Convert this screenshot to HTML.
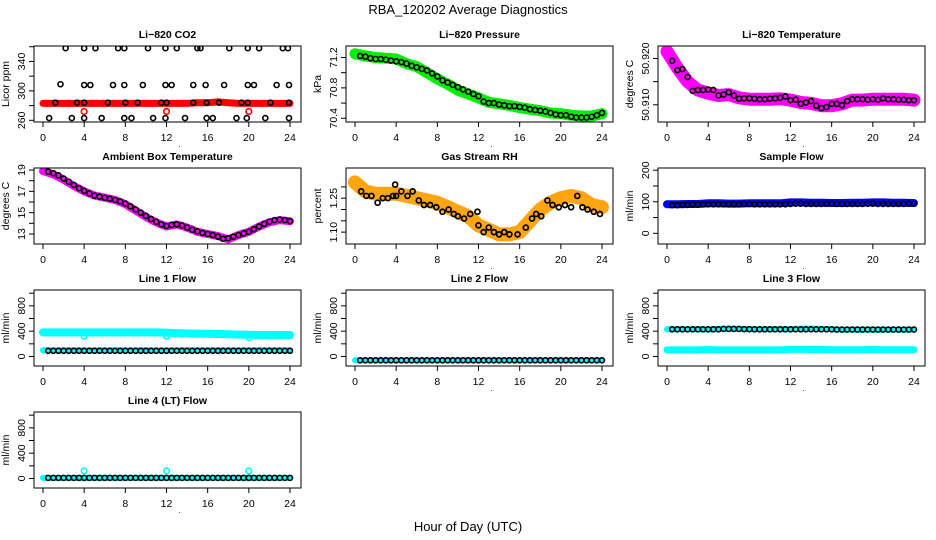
<!DOCTYPE html>
<html><head><meta charset="utf-8">
<style>
html,body{margin:0;padding:0;background:#fff;}
svg{display:block;font-family:"Liberation Sans",Arial,sans-serif;}
</style></head>
<body>
<svg id="chart" width="936" height="540" viewBox="0 0 936 540" xmlns="http://www.w3.org/2000/svg">
<text x="468" y="14" text-anchor="middle" font-size="13">RBA_120202  Average Diagnostics</text>
<text x="468" y="531" text-anchor="middle" font-size="13">Hour of Day (UTC)</text>
</svg>
<script>
// ---- data ----
const xTicks = [0,4,8,12,16,20,24];
const bandHours = [0,1,2,3,4,5,6,7,8,9,10,11,12,13,14,15,16,17,18,19,20,21,22,23,24];
const ptHours = [0.5,1,1.5,2,2.5,3,3.5,4,4.5,5,5.5,6,6.5,7,7.5,8,8.5,9,9.5,10,10.5,11,11.5,12,12.5,13,13.5,14,14.5,15,15.5,16,16.5,17,17.5,18,18.5,19,19.5,20,20.5,21,21.5,22,22.5,23,23.5,24];

// CO2
const co2Band = [283,283,283,283,283,283,283,283,283,283,283,283,283,283,283,284,284,285,284,283,283,283,283,283,283];
const co2OutHours = [4,12,20];
const co2OutVals = [272,272,272];
const co2PtHours = [2.2,4,5.1,7.3,7.9,10.2,11.9,13,15,15.3,18.1,19.9,21,23.3,23.8, 1.7,4,4.6,6.8,7.9,9.7,11.9,12.5,14.6,15.8,17.6,19.9,20.5,22.7,23.9, 1.2,3.3,4,6.3,8,9.2,11.5,12,14.6,15.9,17.1,19.3,19.9,22.1,23.9, 0.6,2.8,4,5.7,7.9,8.6,10.7,11.9,13.8,15.9,16.5,18.8,19.8,21.6,23.9];
const co2PtVals = [358,358,358,358,358,358,358,358,358,358,358,358,358,358,358, 309,308,308,308,308,308,308,308,308,308,308,308,308,308,308, 284,284,284,284,284,284,284,284,284,284,284,284,284,284,284, 263,263,263,263,263,263,263,263,263,263,263,263,263,263,263];

// Pressure
const presBand = [71.25,71.22,71.2,71.19,71.18,71.12,71.08,71.0,70.92,70.85,70.77,70.72,70.67,70.61,70.59,70.57,70.54,70.52,70.5,70.47,70.46,70.44,70.43,70.43,70.46];
const presPts = [71.22,71.21,71.19,71.18,71.18,71.17,71.16,71.15,71.14,71.12,71.09,71.07,71.05,71.03,70.99,70.95,70.9,70.87,70.84,70.81,70.78,70.75,70.72,70.69,70.62,70.6,70.6,70.58,70.57,70.56,70.56,70.55,70.54,70.52,70.51,70.5,70.49,70.47,70.45,70.44,70.44,70.42,70.41,70.41,70.41,70.42,70.44,70.47];

// Li-820 temperature
const ltBand = [50.9215,50.918,50.915,50.9132,50.9125,50.912,50.9122,50.9115,50.9112,50.9112,50.9112,50.9113,50.911,50.9105,50.9103,50.9098,50.9098,50.9102,50.911,50.911,50.9112,50.9112,50.9112,50.9112,50.911];
const ltPts = [50.9195,50.9175,50.9177,50.916,50.913,50.9132,50.9132,50.9133,50.9132,50.912,50.9122,50.9127,50.912,50.9113,50.9114,50.9114,50.9113,50.9112,50.9112,50.9113,50.9114,50.9115,50.9118,50.911,50.9111,50.9102,50.9105,50.9108,50.9098,50.9093,50.9095,50.9102,50.9102,50.9099,50.9108,50.9112,50.9112,50.9112,50.9111,50.9112,50.9111,50.9114,50.9112,50.9112,50.9111,50.9111,50.911,50.911];

// Ambient box temperature
const ambBand = [18.9,18.6,18.1,17.5,17.0,16.6,16.4,16.2,15.8,15.2,14.6,14.1,13.7,13.9,13.6,13.2,13.0,12.8,12.5,12.9,13.2,13.7,14.1,14.3,14.2];
const ambPts = [18.85,18.7,18.5,18.2,17.9,17.6,17.3,17.05,16.8,16.6,16.5,16.4,16.3,16.2,16.05,15.85,15.6,15.3,15.0,14.7,14.4,14.15,13.9,13.75,13.85,13.9,13.8,13.6,13.4,13.25,13.1,13.0,12.9,12.75,12.55,12.6,12.75,12.9,13.05,13.2,13.45,13.7,13.95,14.15,14.3,14.35,14.3,14.2];

// Gas stream RH
const rhBand = [1.32,1.28,1.27,1.27,1.27,1.26,1.25,1.24,1.23,1.21,1.19,1.17,1.13,1.11,1.09,1.09,1.10,1.15,1.20,1.23,1.25,1.26,1.25,1.22,1.21];
const rhPtHours = [0.6,1.1,1.6,2.2,2.7,3.2,3.7,3.9,4,4.5,5.1,5.6,6.2,6.7,7.3,7.9,8.5,9.1,9.6,10,10.6,11.2,11.9,12,12.5,13,13.5,14,14.5,15,15.8,16.6,17.2,17.6,18.1,18.7,19.2,19.8,20.4,21,21.6,22.1,22.6,23.2,23.8];
const rhPtVals = [1.28,1.26,1.26,1.23,1.25,1.25,1.26,1.31,1.26,1.28,1.26,1.28,1.24,1.22,1.22,1.21,1.19,1.20,1.18,1.17,1.16,1.18,1.19,1.13,1.10,1.12,1.10,1.09,1.10,1.09,1.09,1.12,1.16,1.18,1.17,1.24,1.22,1.21,1.22,1.21,1.26,1.21,1.20,1.19,1.18];

// Sample flow
const sfBand = [92,92,93,93,95,95,94,94,95,95,95,95,98,98,97,97,96,96,97,97,98,98,97,97,96];
const sfPts = [89,89,90,90,91,91,92,92,92,92,92,92,92,92,93,93,92,92,92,92,92,92,92,93,94,94,93,93,93,93,94,94,93,93,93,93,93,93,94,94,93,93,93,93,93,93,94,94];

// Line 1
const l1Upper = [380,380,380,380,380,380,380,380,380,380,380,380,378,370,365,362,360,355,350,345,342,340,340,340,340];
const l1Lower = [100,100,100,100,100,100,100,100,100,100,100,100,100,100,100,100,100,100,100,100,100,100,100,100,100];
const l1OutHours = [4,12,20];
const l1OutVals = [320,320,300];
const l1Pts = [90,90,90,90,90,90,90,90,90,90,90,90,90,90,90,90,90,90,90,90,90,90,90,90,90,90,90,90,90,90,90,90,90,90,90,90,90,90,90,90,90,90,90,90,90,90,90,90];

// Line 2
const l2Band = [-60,-60,-60,-60,-60,-60,-60,-60,-60,-60,-60,-60,-60,-60,-60,-60,-60,-60,-60,-60,-60,-60,-60,-60,-60];
const l2Pts = [-60,-60,-60,-60,-60,-60,-60,-60,-60,-60,-60,-60,-60,-60,-60,-60,-60,-60,-60,-60,-60,-60,-60,-60,-60,-60,-60,-60,-60,-60,-60,-60,-60,-60,-60,-60,-60,-60,-60,-60,-60,-60,-60,-60,-60,-60,-60,-60];

// Line 3
const l3Upper = [430,430,430,430,425,435,440,435,430,430,430,430,430,440,440,435,430,425,425,425,425,425,425,425,425];
const l3Lower = [105,105,105,105,110,105,105,105,105,105,105,105,112,112,110,110,108,108,108,108,110,108,108,108,108];
const l3Pts = [430,430,430,430,430,430,430,430,430,430,435,435,435,435,432,432,430,430,430,430,430,430,430,430,430,430,430,430,430,430,430,430,425,425,425,425,425,425,425,425,425,425,425,425,425,425,425,425];

// Line 4
const l4Band = [10,10,10,10,10,10,10,10,10,10,10,10,10,10,10,10,10,10,10,10,10,10,10,10,10];
const l4OutHours = [4,12,20];
const l4OutVals = [120,120,120];
const l4Pts = [10,10,10,10,10,10,10,10,10,10,10,10,10,10,10,10,10,10,10,10,10,10,10,10,10,10,10,10,10,10,10,10,10,10,10,10,10,10,10,10,10,10,10,10,10,10,10,10];

// ---- drawing ----
const NS = "http://www.w3.org/2000/svg";
const svg = document.getElementById('chart');
function mk(tag, attrs, parent){
  const e = document.createElementNS(NS, tag);
  for (const k in attrs) e.setAttribute(k, attrs[k]);
  (parent||svg).appendChild(e);
  return e;
}

function panel(col, row, name, title, ylab, ymin, ymax, ticks, labels){
  const L = 34 + 312*col, R = 301 + 312*col;
  const T = 46 + 122*row, B = T + 76;
  const g = mk('g', {});
  
  
  const xs = h => 43 + 312*col + h*(247/24);
  const ys = v => B - (v - ymin)/(ymax - ymin)*(B - T);
  const t = mk('text', {x:(L+R)/2, y:T-8, 'text-anchor':'middle', 'font-size':10.5, 'font-weight':'bold'}, g);
  t.textContent = title;
  
  
  const yl = mk('text', {x:0, y:0, 'text-anchor':'middle', 'font-size':10.5, transform:`translate(${L-25},${(T+B)/2}) rotate(-90)`}, g);
  yl.textContent = ylab;
  
  
  const xa = mk('g', {}, g);
  
  
  mk('line', {x1:xs(xTicks[0]), x2:xs(xTicks[xTicks.length-1]), y1:B, y2:B, stroke:'#000'}, xa);
  xTicks.forEach(v=>{
    mk('line', {x1:xs(v), x2:xs(v), y1:B, y2:B+5, stroke:'#000'}, xa);
    const lt = mk('text', {x:xs(v), y:B+19, 'text-anchor':'middle', 'font-size':10.5}, xa);
    lt.textContent = v;
  });
  const dot = mk('text', {x:(L+R)/2+12, y:B+25, 'text-anchor':'middle', 'font-size':8}, xa);
  dot.textContent = '.';
  const ya = mk('g', {}, g);
  
  
  mk('line', {x1:L, x2:L, y1:ys(ticks[0]), y2:ys(ticks[ticks.length-1]), stroke:'#000'}, ya);
  ticks.forEach((v,i)=>{
    mk('line', {x1:L-5, x2:L, y1:ys(v), y2:ys(v), stroke:'#000'}, ya);
    if (labels[i] !== '') {
      const lt = mk('text', {x:0, y:0, 'text-anchor':'middle', 'font-size':10.5, transform:`translate(${L-9},${ys(v)}) rotate(-90)`}, ya);
      lt.textContent = labels[i];
    }
  });
  const clipId = 'clip-' + name;
  const cp = mk('clipPath', {id:clipId}, g);
  mk('rect', {x:L, y:T, width:R-L, height:B-T}, cp);
  const plot = mk('g', {'clip-path':`url(#${clipId})`}, g);
  
  
  const box = mk('rect', {x:L, y:T, width:R-L, height:B-T, fill:'none', stroke:'#000'}, g);
  
  
  return {plot, xs, ys};
}

function band(p, name, hours, vals, color, w){
  const pts = hours.map((h,i)=> p.xs(h).toFixed(1)+','+p.ys(vals[i]).toFixed(1)).join(' ');
  const pl = mk('polyline', {points:pts, fill:'none', stroke:color, 'stroke-width':w, 'stroke-linejoin':'round', 'stroke-linecap':'round'}, p.plot);
  
  
}
function points(p, name, hours, vals, color, r, sw){
  const g = mk('g', {}, p.plot);
  
  
  hours.forEach((h,i)=>{
    mk('circle', {cx:p.xs(h), cy:p.ys(vals[i]), r:r, fill:'none', stroke:color, 'stroke-width':sw}, g);
  });
}

let p = panel(0,0,'co2','Li\u2212820 CO2','Licor ppm',257.7,361,[260,280,300,320,340,360],['260','','300','','340','']);
band(p,'co2-band',bandHours,co2Band,'#ff0000',7);
points(p,'co2-outliers',co2OutHours,co2OutVals,'#ff0000',2.8,1.6);
points(p,'co2-points',co2PtHours,co2PtVals,'#000',2.5,1.6);

p = panel(1,0,'pressure','Li\u2212820 Pressure','kPa',70.351,71.351,[70.4,70.6,70.8,71.0,71.2],['70.4','','70.8','','71.2']);
band(p,'pressure-band',bandHours,presBand,'#00ee00',11);
points(p,'pressure-points',ptHours,presPts,'#000',2.5,1.6);

p = panel(2,0,'li820-temp','Li\u2212820 Temperature','degrees C',50.90628,50.92269,[50.910,50.915,50.920],['50.910','','50.920']);
band(p,'li820-temp-band',bandHours,ltBand,'#ff00ff',13);
points(p,'li820-temp-points',ptHours,ltPts,'#000',2.5,1.6);

p = panel(0,1,'ambient-temp','Ambient Box Temperature','degrees C',12.06,19.19,[13,14,15,16,17,18,19],['13','','15','','17','','19']);
band(p,'ambient-temp-band',bandHours,ambBand,'#ff00ff',8);
points(p,'ambient-temp-points',ptHours,ambPts,'#000',2.5,1.6);

p = panel(1,1,'gas-rh','Gas Stream RH','percent',1.0474,1.3835,[1.10,1.15,1.20,1.25,1.30],['1.10','','','1.25','']);
band(p,'gas-rh-band',bandHours,rhBand,'#ffa510',14);
points(p,'gas-rh-points',rhPtHours,rhPtVals,'#000',2.5,1.7);

p = panel(2,1,'sample-flow','Sample Flow','ml/min',-33.8,206.9,[0,50,100,150,200],['0','','100','','200']);
band(p,'sample-flow-band',bandHours,sfBand,'#0000ff',8);
points(p,'sample-flow-points',ptHours,sfPts,'#000',2.5,1.6);

const fT = [0,200,400,600,800,1000], fL = ['0','','400','','800',''];
p = panel(0,2,'line1-flow','Line 1 Flow','ml/min',-150,1050,fT,fL);
band(p,'line1-upper-band',bandHours,l1Upper,'#00ffff',8);
band(p,'line1-lower-band',bandHours,l1Lower,'#00ffff',6);
points(p,'line1-outliers',l1OutHours,l1OutVals,'#00ffff',2.8,1.6);
points(p,'line1-points',ptHours,l1Pts,'#000',2.5,1.6);

p = panel(1,2,'line2-flow','Line 2 Flow','ml/min',-150,1050,fT,fL);
band(p,'line2-band',bandHours,l2Band,'#00ffff',6);
points(p,'line2-points',ptHours,l2Pts,'#000',2.5,1.6);

p = panel(2,2,'line3-flow','Line 3 Flow','ml/min',-150,1050,fT,fL);
band(p,'line3-upper-band',bandHours,l3Upper,'#00ffff',6);
band(p,'line3-lower-band',bandHours,l3Lower,'#00ffff',7);
points(p,'line3-points',ptHours,l3Pts,'#000',2.5,1.6);

p = panel(0,3,'line4-flow','Line 4 (LT) Flow','ml/min',-150,1050,fT,fL);
band(p,'line4-band',bandHours,l4Band,'#00ffff',6);
points(p,'line4-outliers',l4OutHours,l4OutVals,'#00ffff',2.8,1.6);
points(p,'line4-points',ptHours,l4Pts,'#000',2.5,1.6);
</script>
</body></html>
